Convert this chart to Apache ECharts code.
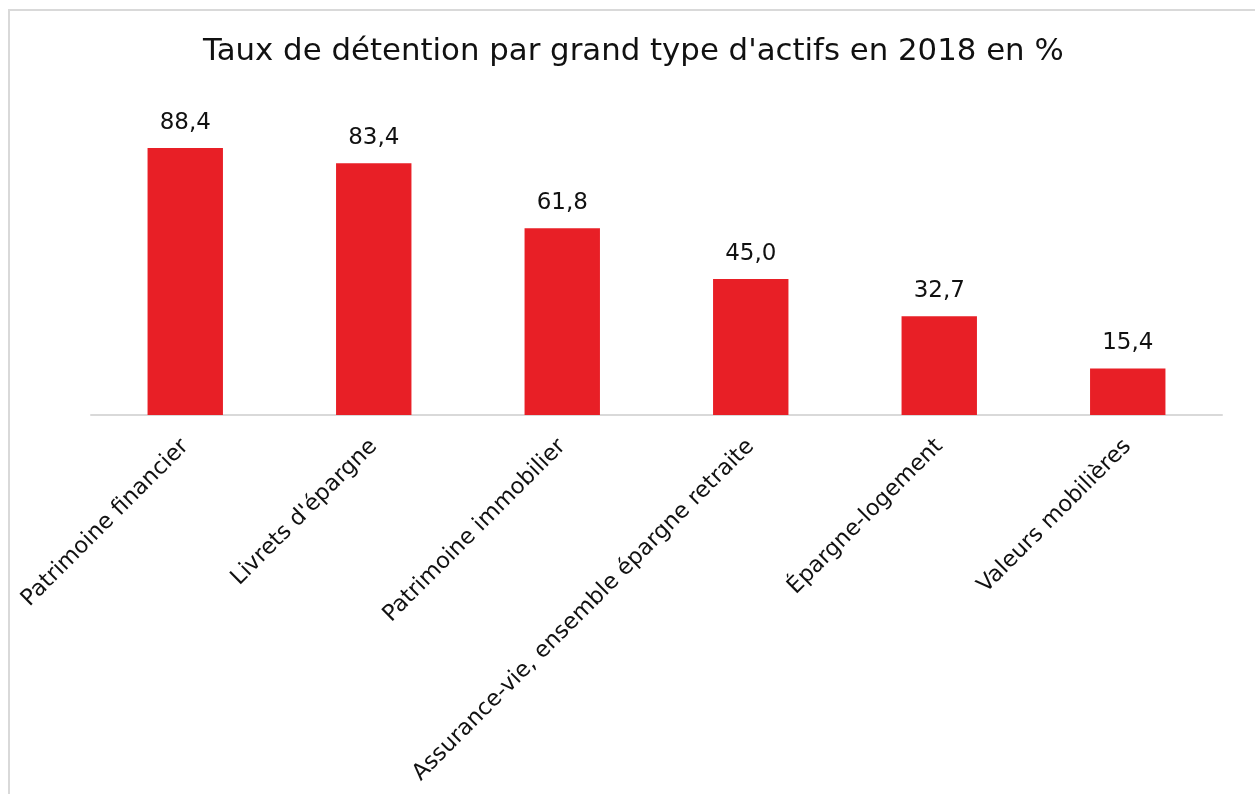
<!DOCTYPE html>
<html>
<head>
<meta charset="utf-8">
<script src="https://cdn.jsdelivr.net/npm/echarts@6/dist/echarts.min.js"></script>
<style>
  html, body { margin: 0; padding: 0; background: #ffffff; }
  #frame {
    position: absolute;
    left: 8px;
    top: 9px;
    width: 1260px;
    height: 800px;
    border: 2px solid #d9d9d9;
    box-sizing: border-box;
  }
  #chart { position: absolute; left: 0; top: 0; width: 1255px; height: 794px; }
</style>
</head>
<body>
<div id="frame"></div>
<div id="chart"></div>
<script>
const title = "Taux de détention par grand type d'actifs en 2018 en %"
const categories = [
  'Patrimoine financier',
  "Livrets d'épargne",
  'Patrimoine immobilier',
  'Assurance-vie, ensemble épargne retraite',
  'Épargne-logement',
  'Valeurs mobilières',
]
const values = [88.4, 83.4, 61.8, 45.0, 32.7, 15.4]

const fontFamily = '"DejaVu Sans", sans-serif'

const chart = echarts.init(document.getElementById('chart'))

chart.setOption({
  backgroundColor: 'transparent',
  animation: false,
  title: {
    text: title,
    left: 198,
    top: 31,
    textStyle: {
      fontFamily,
      fontSize: 30.8,
      fontWeight: 'normal',
      color: '#111111',
    },
  },
  grid: {
    left: 91,
    right: 33,
    top: 113,
    bottom: 379,
  },
  xAxis: {
    type: 'category',
    data: categories,
    axisLine: { lineStyle: { color: '#d9d9d9', width: 2 } },
    axisTick: { show: false },
    axisLabel: {
      rotate: 45,
      margin: 28,
      interval: 0,
      fontFamily,
      fontSize: 22.5,
      color: '#111111',
    },
  },
  yAxis: {
    type: 'value',
    min: 0,
    max: 100,
    show: false,
    splitLine: { show: false },
  },
  series: [
    {
      type: 'bar',
      data: values,
      barWidth: '40%',
      itemStyle: { color: '#e81f26' },
      label: {
        show: true,
        position: 'top',
        distance: 14,
        fontFamily,
        fontSize: 23,
        color: '#111111',
        formatter: (p) => p.value.toFixed(1).replace('.', ','),
      },
    },
  ],
})
</script>
</body>
</html>
